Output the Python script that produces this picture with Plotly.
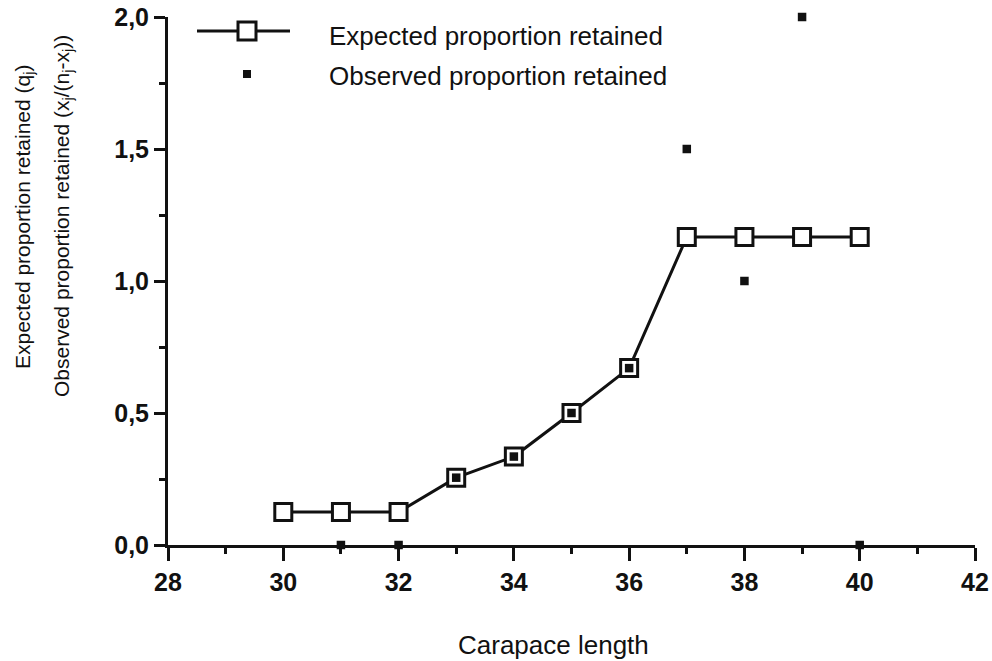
import plotly.graph_objects as go

# Data
carapace = [30, 31, 32, 33, 34, 35, 36, 37, 38, 39, 40]
expected = [0.125, 0.125, 0.125, 0.255, 0.335, 0.50, 0.67, 1.167, 1.167, 1.167, 1.167]
observed = [None, 0.0, 0.0, 0.255, 0.335, 0.50, 0.67, 1.50, 1.00, 2.00, 0.0]

x_ticks = [28, 30, 32, 34, 36, 38, 40, 42]
y_ticks = [0.0, 0.5, 1.0, 1.5, 2.0]

FONT = "Liberation Sans, Arial, sans-serif"
INK = "#111111"

W, H = 992, 661
ML, MR, MT, MB = 168, 17, 17, 116
PW, PH = W - ML - MR, H - MT - MB


def px(xp):
    return (xp - ML) / PW


def py(yp):
    return (H - MB - yp) / PH


fig = go.Figure()

fig.add_trace(go.Scatter(
    x=carapace, y=expected, mode="lines+markers",
    name="Expected proportion retained",
    line=dict(color=INK, width=3),
    marker=dict(symbol="square", size=17, color="white",
                line=dict(color=INK, width=3)),
    cliponaxis=False,
    showlegend=False,
))

fig.add_trace(go.Scatter(
    x=carapace, y=observed, mode="markers",
    name="Observed proportion retained",
    marker=dict(symbol="square", size=8.5, color=INK, line=dict(width=0)),
    cliponaxis=False,
    showlegend=False,
))

axis_common = dict(
    showgrid=False, zeroline=False, showline=True, automargin=False,
    linecolor=INK, linewidth=3,
    ticks="outside", tickcolor=INK, tickwidth=3,
    tickfont=dict(family=FONT, size=25, color=INK, weight="bold"),
)

fig.update_xaxes(
    range=[28, 42], tickmode="array", tickvals=x_ticks,
    ticktext=[str(v) for v in x_ticks], ticklen=13,
    minor=dict(dtick=1, ticks="outside", ticklen=6, tickwidth=3, tickcolor=INK, showgrid=False),
    **axis_common,
)
fig.update_yaxes(
    range=[0, 2.0], tickmode="array", tickvals=y_ticks,
    tickformat=".1f", ticklen=11,
    minor=dict(dtick=0.25, ticks="outside", ticklen=6, tickwidth=3, tickcolor=INK, showgrid=False),
    **axis_common,
)

# Custom legend
fig.add_shape(type="line", xref="paper", yref="paper",
              x0=px(197), x1=px(290), y0=py(31), y1=py(31),
              line=dict(color=INK, width=3))
fig.add_shape(type="rect", xref="paper", yref="paper",
              x0=px(238), x1=px(256), y0=py(40), y1=py(22),
              line=dict(color=INK, width=3), fillcolor="white")
fig.add_shape(type="rect", xref="paper", yref="paper",
              x0=px(243), x1=px(251), y0=py(78), y1=py(70),
              line=dict(width=0), fillcolor=INK)

fig.add_annotation(x=px(327), y=py(36), xref="paper", yref="paper",
                   text="Expected proportion retained", showarrow=False,
                   xanchor="left", yanchor="middle",
                   font=dict(family=FONT, size=26, color=INK))
fig.add_annotation(x=px(327), y=py(76), xref="paper", yref="paper",
                   text="Observed proportion retained", showarrow=False,
                   xanchor="left", yanchor="middle",
                   font=dict(family=FONT, size=26, color=INK))

# Axis titles
fig.add_annotation(x=px(553), y=py(645), xref="paper", yref="paper",
                   text="Carapace length", showarrow=False,
                   xanchor="center", yanchor="middle",
                   font=dict(family=FONT, size=26, color=INK))
fig.add_annotation(x=px(24), y=py(217), xref="paper", yref="paper",
                   text="Expected proportion retained (q<sub>j</sub>)", showarrow=False,
                   textangle=-90, xanchor="center", yanchor="middle",
                   font=dict(family=FONT, size=21, color=INK))
fig.add_annotation(x=px(63), y=py(216), xref="paper", yref="paper",
                   text="Observed proportion retained (x<sub>j</sub>/(n<sub>j</sub>-x<sub>j</sub>))",
                   showarrow=False,
                   textangle=-90, xanchor="center", yanchor="middle",
                   font=dict(family=FONT, size=21, color=INK))

fig.update_layout(
    template="none",
    width=W, height=H,
    margin=dict(l=ML, r=MR, t=MT, b=MB, autoexpand=False),
    paper_bgcolor="white", plot_bgcolor="white",
    separators=", ",
    showlegend=False,
)

fig.write_html("out.html")
